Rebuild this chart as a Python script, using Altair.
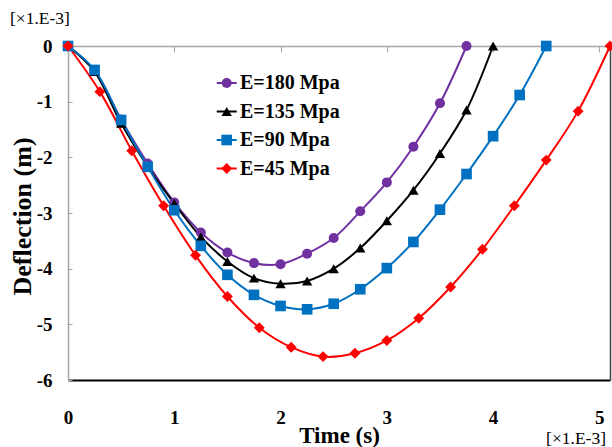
import altair as alt
import pandas as pd

# ---- data ----
series_names = ["E=180 Mpa", "E=135 Mpa", "E=90 Mpa", "E=45 Mpa"]
colors = ["#7030A0", "#000000", "#0070C0", "#FF0000"]
shapes = ["circle", "triangle-up", "square", "diamond"]
sizes = [100, 120, 110, 160]

t_180 = [0, 0.25, 0.5, 0.75, 1.0, 1.25, 1.5, 1.75, 2.0, 2.25, 2.5, 2.75, 3.0, 3.25, 3.5, 3.75]
d_180 = [0, -0.44, -1.32, -2.11, -2.81, -3.35, -3.71, -3.90, -3.92, -3.73, -3.45, -2.97, -2.45, -1.81, -1.03, 0]

t_135 = [0, 0.25, 0.5, 0.75, 1.0, 1.25, 1.5, 1.75, 2.0, 2.25, 2.5, 2.75, 3.0, 3.25, 3.5, 3.75, 4.0]
d_135 = [0, -0.46, -1.39, -2.17, -2.83, -3.43, -3.87, -4.17, -4.27, -4.22, -4.00, -3.63, -3.14, -2.59, -1.93, -1.15, 0]

t_90 = [0, 0.25, 0.5, 0.75, 1.0, 1.25, 1.5, 1.75, 2.0, 2.25, 2.5, 2.75, 3.0, 3.25, 3.5, 3.75, 4.0, 4.25, 4.5]
d_90 = [0, -0.43, -1.33, -2.17, -2.95, -3.59, -4.11, -4.47, -4.67, -4.73, -4.63, -4.37, -3.99, -3.52, -2.94, -2.30, -1.62, -0.88, 0]

t_45 = [0, 0.3, 0.6, 0.9, 1.2, 1.5, 1.8, 2.1, 2.4, 2.7, 3.0, 3.3, 3.6, 3.9, 4.2, 4.5, 4.8, 5.1]
d_45 = [0, -0.82, -1.88, -2.87, -3.76, -4.50, -5.06, -5.41, -5.58, -5.52, -5.29, -4.89, -4.33, -3.65, -2.87, -2.05, -1.17, 0]

x_ticks = [0, 1, 2, 3, 4, 5]
y_ticks = [0, -1, -2, -3, -4, -5, -6]

# ---- build table ----
rows = []
for k, (name, ts, ds) in enumerate(zip(series_names, [t_180, t_135, t_90, t_45], [d_180, d_135, d_90, d_45])):
    for t, d in zip(ts, ds):
        rows.append({"series": name, "t": t, "d": d, "k": k})
df = pd.DataFrame(rows)
leg = pd.DataFrame({"series": series_names, "k": list(range(4))})

FONT = "Liberation Serif"
W, H = 542, 334

color = alt.Color("series:N", scale=alt.Scale(domain=series_names, range=colors), legend=None)
xscale = alt.Scale(domain=[0, 5.1], nice=False, zero=False)
yscale = alt.Scale(domain=[-6, 0], nice=False)

# labelled axes (no lines)
lines = alt.Chart(df).mark_line(interpolate="catmull-rom", strokeWidth=2).encode(
    x=alt.X("t:Q", scale=xscale, axis=alt.Axis(
        orient="bottom",
        values=x_ticks, format="d", domain=False, ticks=False, grid=False,
        labelFont=FONT, labelFontSize=19, labelFontWeight="bold", labelColor="#000",
        labelPadding=28, labelFlush=False,
        title="Time (s)", titleFont=FONT, titleFontSize=23, titleFontWeight="bold",
        titleColor="#000", titleY=62, titleBaseline="alphabetic")),
    y=alt.Y("d:Q", scale=yscale, axis=alt.Axis(
        orient="left",
        values=y_ticks, domain=False, ticks=False, grid=False,
        labelExpr="datum.value == 0 ? '0' : '-' + abs(datum.value)",
        labelFont=FONT, labelFontSize=19, labelFontWeight="bold", labelColor="#000",
        labelPadding=16, labelFlush=False,
        title="Deflection (m)", titleFont=FONT, titleFontSize=26, titleFontWeight="bold",
        titleColor="#000", titleX=-38, titleY=170, titleBaseline="alphabetic")),
    color=color,
    detail="series:N",
    order="t:Q",
)

# frame: black bottom line and dark right line, drawn as axis domains
frame = alt.Chart(df).mark_point(opacity=0).encode(
    x=alt.X("t:Q", scale=xscale, axis=alt.Axis(
        orient="bottom", labels=False, ticks=False, title=None, grid=False,
        domainColor="#000000", domainWidth=2)),
    y=alt.Y("d:Q", scale=yscale, axis=alt.Axis(
        orient="right", labels=False, ticks=False, title=None, grid=False,
        domainColor="#404040", domainWidth=1.5)),
)

# gray axis lines crossing at zero (top) and left, with inward ticks
points = alt.Chart(df).mark_point(filled=True, opacity=1, strokeWidth=0).encode(
    x=alt.X("t:Q", scale=xscale, axis=alt.Axis(
        orient="bottom", offset=-H, values=x_ticks, labels=False, title=None, grid=False,
        domainColor="#A6A6A6", domainWidth=1.5, tickColor="#A6A6A6", tickSize=6, tickWidth=1)),
    y=alt.Y("d:Q", scale=yscale, axis=alt.Axis(
        orient="right", offset=-W, values=y_ticks, labels=False, title=None, grid=False,
        domainColor="#A6A6A6", domainWidth=1.5, tickColor="#A6A6A6", tickSize=4, tickWidth=1)),
    color=color,
    shape=alt.Shape("series:N", scale=alt.Scale(domain=series_names, range=shapes), legend=None),
    size=alt.Size("series:N", scale=alt.Scale(domain=series_names, range=sizes), legend=None),
    order="k:Q",
)

ly = alt.Y("series:N", sort=series_names, axis=None,
           scale=alt.Scale(type="point", domain=series_names, range=[37, 122.5], padding=0))

leg_rule = alt.Chart(leg).mark_rule(strokeWidth=2).encode(
    x=alt.value(148.7), x2=alt.value(168.7), y=ly, color=color)
leg_pt = alt.Chart(leg).mark_point(filled=True, opacity=1, strokeWidth=0).encode(
    x=alt.value(158.7), y=ly, color=color,
    shape=alt.Shape("series:N", scale=alt.Scale(domain=series_names, range=shapes), legend=None),
    size=alt.Size("series:N", scale=alt.Scale(domain=series_names, range=sizes), legend=None))
leg_txt = alt.Chart(leg).mark_text(align="left", baseline="middle", font=FONT, fontSize=20,
                                   fontWeight="bold", color="#000").encode(
    x=alt.value(172), y=ly, text="series:N")

one = pd.DataFrame({"a": [0]})
unit_tl = alt.Chart(one).mark_text(align="left", baseline="alphabetic", font=FONT, fontSize=17.5,
                                   color="#000").encode(
    x=alt.value(-58), y=alt.value(-22), text=alt.value("[×1.E-3]"))
unit_br = alt.Chart(one).mark_text(align="right", baseline="alphabetic", font=FONT, fontSize=17.5,
                                   color="#000").encode(
    x=alt.value(538), y=alt.value(398), text=alt.value("[×1.E-3]"))

chart = alt.layer(lines, frame, points, leg_rule, leg_pt, leg_txt, unit_tl, unit_br).resolve_scale(
    y="independent"
).resolve_axis(
    x="independent", y="independent"
).properties(
    width=W, height=H,
    padding={"left": 68, "top": 46, "right": 2, "bottom": 67},
    autosize=alt.AutoSizeParams(type="none"),
    background="white",
).configure_view(
    stroke=None
)

chart.save("out.html", embed_options={"renderer": "svg", "actions": False})
